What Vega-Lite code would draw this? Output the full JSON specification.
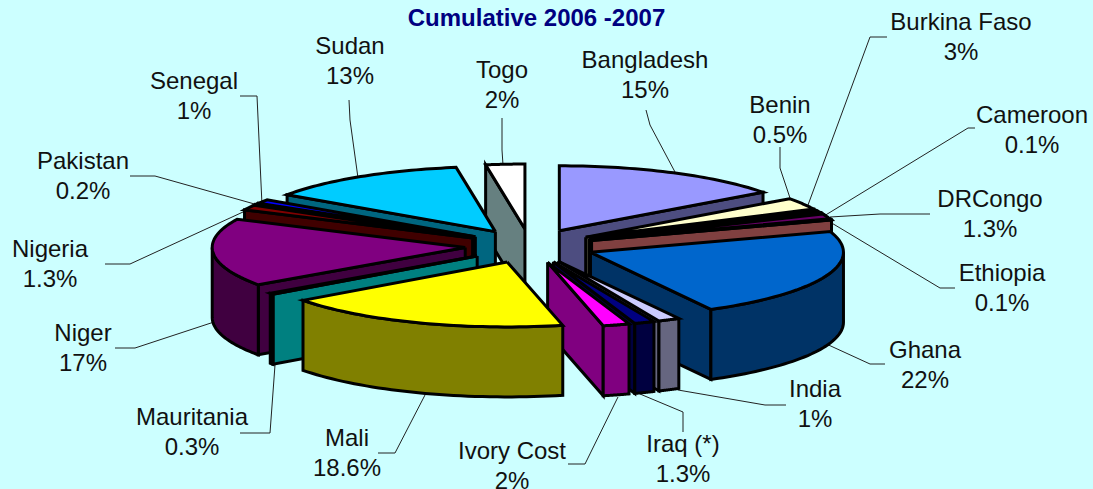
{
"$schema":"https://vega.github.io/schema/vega-lite/v6.json",
"width":1093,"height":489,"padding":0,"autosize":{"type":"none"},
"background":"#CCFFFF",
"view":{"stroke":null},
"title":{"text":"Cumulative 2006 -2007","font":"Liberation Sans","fontSize":24,"fontWeight":"bold","color":"#000080","anchor":"middle","dx":-10,"offset":-31},
"data":{"values":[
{"seq":18,"name":"Togo","value":2.5,"label":"2%"},
{"seq":17,"name":"Sudan","value":13,"label":"13%"},
{"seq":16,"name":"Senegal","value":1,"label":"1%"},
{"seq":15,"name":"Pakistan","value":0.2,"label":"0.2%"},
{"seq":14,"name":"Nigeria","value":1.3,"label":"1.3%"},
{"seq":1,"name":"Bangladesh","value":15,"label":"15%"},
{"seq":2,"name":"Burkina Faso","value":3,"label":"3%"},
{"seq":3,"name":"Benin","value":0.5,"label":"0.5%"},
{"seq":4,"name":"Cameroon","value":0.1,"label":"0.1%"},
{"seq":5,"name":"DRCongo","value":1.3,"label":"1.3%"},
{"seq":6,"name":"Ethiopia","value":0.1,"label":"0.1%"},
{"seq":13,"name":"Niger","value":17,"label":"17%"},
{"seq":12,"name":"Mauritania","value":0.3,"label":"0.3%"},
{"seq":7,"name":"Ghana","value":22.4,"label":"22%"},
{"seq":8,"name":"India","value":1.4,"label":"1%"},
{"seq":9,"name":"Iraq (*)","value":1.3,"label":"1.3%"},
{"seq":10,"name":"Ivory Cost","value":1.7,"label":"2%"},
{"seq":11,"name":"Mali","value":18.6,"label":"18.6%"}
]},
"transform":[
{"joinaggregate":[{"op":"sum","field":"value","as":"total"}]},
{"window":[{"op":"sum","field":"value","as":"cum"}],"sort":[{"field":"seq"}],"frame":[null,0]},
{"calculate":"2*PI*(datum.cum-datum.value)/datum.total","as":"th0"},
{"calculate":"2*PI*datum.cum/datum.total","as":"th1"},
{"calculate":"530+65*sin((datum.th0+datum.th1)/2)","as":"ax"},
{"calculate":"246-17*cos((datum.th0+datum.th1)/2)","as":"ay"},
{"calculate":"{'Togo':'#FFFFFF','Sudan':'#00CCFF','Senegal':'#0000FF','Pakistan':'#008080','Nigeria':'#800000','Bangladesh':'#9999FF','Burkina Faso':'#FFFFCC','Benin':'#993366','Cameroon':'#CCFFFF','DRCongo':'#660066','Ethiopia':'#FF8080','Niger':'#800080','Mauritania':'#00FFFF','Ghana':'#0066CC','India':'#CCCCFF','Iraq (*)':'#000080','Ivory Cost':'#FF00FF','Mali':'#FFFF00'}[datum.name]","as":"topColor"},
{"calculate":"{'Togo':'#668080','Sudan':'#006680','Senegal':'#000080','Pakistan':'#004040','Nigeria':'#400000','Bangladesh':'#4D4D80','Burkina Faso':'#808066','Benin':'#4D1A33','Cameroon':'#668080','DRCongo':'#330033','Ethiopia':'#804040','Niger':'#400040','Mauritania':'#008080','Ghana':'#003366','India':'#666680','Iraq (*)':'#000040','Ivory Cost':'#800080','Mali':'#808000'}[datum.name]","as":"wallColor"}
],
"encoding":{
"x":{"field":"px","type":"quantitative","scale":{"domain":[0,1093],"nice":false,"zero":false},"axis":null},
"y":{"field":"py","type":"quantitative","scale":{"domain":[489,0],"nice":false,"zero":false},"axis":null}
},
"layer":[
{"transform":[
{"calculate":"{'Bangladesh':[646,650,675],'Burkina Faso':[887,870,808],'Benin':[780,780,790],'Cameroon':[975,968,824],'DRCongo':[930,880,830],'Ethiopia':[955,940,830],'Ghana':[885,870,822],'India':[786,765,678],'Iraq (*)':[683,683,640],'Ivory Cost':[568,585,618],'Mali':[378,395,425],'Mauritania':[240,270,275],'Niger':[115,135,214],'Nigeria':[105,130,243],'Pakistan':[130,155,258],'Senegal':[240,257,262],'Sudan':[349,350,358],'Togo':[502,502,503]}[datum.name]","as":"xs"},
{"calculate":"{'Bangladesh':[110,125,172],'Burkina Faso':[37,37,205],'Benin':[147,168,198],'Cameroon':[128,128,216],'DRCongo':[214,214,217],'Ethiopia':[288,288,222],'Ghana':[364,364,342],'India':[405,405,390],'Iraq (*)':[432,412,394],'Ivory Cost':[464,464,397],'Mali':[453,453,395],'Mauritania':[433,433,365],'Niger':[348,348,322],'Nigeria':[264,264,212],'Pakistan':[176,176,205],'Senegal':[96,96,205],'Sudan':[100,120,178],'Togo':[118,150,165]}[datum.name]","as":"ys"},
{"calculate":"[0,1,2]","as":"k"},
{"flatten":["xs","ys","k"],"as":["px","py","k"]}
],
"mark":{"type":"line","stroke":"#222222","strokeWidth":1},
"encoding":{"detail":{"field":"name"},"order":{"field":"k","type":"quantitative"}}},

{"transform":[
{"calculate":"[0,1]","as":"side"},
{"flatten":["side"]},
{"calculate":"datum.side==1?datum.th1:datum.th0","as":"th"},
{"filter":"datum.side==1?sin(datum.th)>0.0001:sin(datum.th)<-0.0001"},
{"calculate":"sequence(0,5)","as":"k"},
{"flatten":["k"]},
{"calculate":"datum.ax+(datum.k==1||datum.k==2?253*sin(datum.th):0)","as":"px"},
{"calculate":"datum.ay-(datum.k==1||datum.k==2?65*cos(datum.th):0)+(datum.k==2||datum.k==3?70:0)","as":"py"},
{"calculate":"datum.name+datum.side","as":"part"}
],
"mark":{"type":"line","stroke":"#000000","strokeWidth":3,"strokeJoin":"miter"},
"encoding":{"fill":{"field":"wallColor","type":"nominal","scale":null,"legend":null},"detail":{"field":"part"},"order":{"field":"k","type":"quantitative"}}},

{"transform":[
{"calculate":"max(datum.th0,PI/2)","as":"lo"},
{"calculate":"min(datum.th1,3*PI/2)","as":"hi"},
{"filter":"datum.hi>datum.lo"},
{"calculate":"sequence(0,83)","as":"k"},
{"flatten":["k"]},
{"calculate":"datum.k<=40?datum.lo+(datum.hi-datum.lo)*datum.k/40:(datum.k<=81?datum.hi-(datum.hi-datum.lo)*(datum.k-41)/40:datum.lo)","as":"ang"},
{"calculate":"datum.ax+253*sin(datum.ang)","as":"px"},
{"calculate":"datum.ay-65*cos(datum.ang)+(datum.k>=41&&datum.k<=81?70:0)","as":"py"}
],
"mark":{"type":"line","stroke":"#000000","strokeWidth":3,"strokeJoin":"miter"},
"encoding":{"fill":{"field":"wallColor","type":"nominal","scale":null,"legend":null},"detail":{"field":"name"},"order":{"field":"k","type":"quantitative"}}},

{"transform":[
{"calculate":"sequence(0,43)","as":"k"},
{"flatten":["k"]},
{"calculate":"datum.th0+(datum.th1-datum.th0)*(datum.k-1)/40","as":"ang"},
{"calculate":"datum.k>=1&&datum.k<=41?1:0","as":"r"},
{"calculate":"datum.ax+datum.r*253*sin(datum.ang)","as":"px"},
{"calculate":"datum.ay-datum.r*65*cos(datum.ang)","as":"py"}
],
"mark":{"type":"line","stroke":"#000000","strokeWidth":3,"strokeJoin":"miter"},
"encoding":{"fill":{"field":"topColor","type":"nominal","scale":null,"legend":null},"detail":{"field":"name"},"order":{"field":"k","type":"quantitative"}}},

{"transform":[
{"calculate":"{'Sudan':350,'Senegal':194,'Togo':502,'Bangladesh':645,'Burkina Faso':961,'Benin':780,'Cameroon':1032,'DRCongo':990,'Ethiopia':1002,'Ghana':925,'India':815,'Iraq (*)':683,'Ivory Cost':512,'Mali':347,'Mauritania':192,'Niger':83,'Nigeria':50,'Pakistan':83}[datum.name]","as":"px"},
{"calculate":"{'Sudan':47,'Senegal':82,'Togo':71,'Bangladesh':61,'Burkina Faso':23,'Benin':106,'Cameroon':116,'DRCongo':200,'Ethiopia':274,'Ghana':351,'India':390,'Iraq (*)':445,'Ivory Cost':452,'Mali':439,'Mauritania':418,'Niger':334,'Nigeria':250,'Pakistan':162}[datum.name]","as":"py"},
{"calculate":"datum.name+'\\n'+datum.label","as":"txt"}
],
"mark":{"type":"text","font":"Liberation Sans","fontSize":24,"lineBreak":"\n","lineHeight":29.5,"align":"center","baseline":"middle","color":"#111111"},
"encoding":{"text":{"field":"txt"}}}
]
}
